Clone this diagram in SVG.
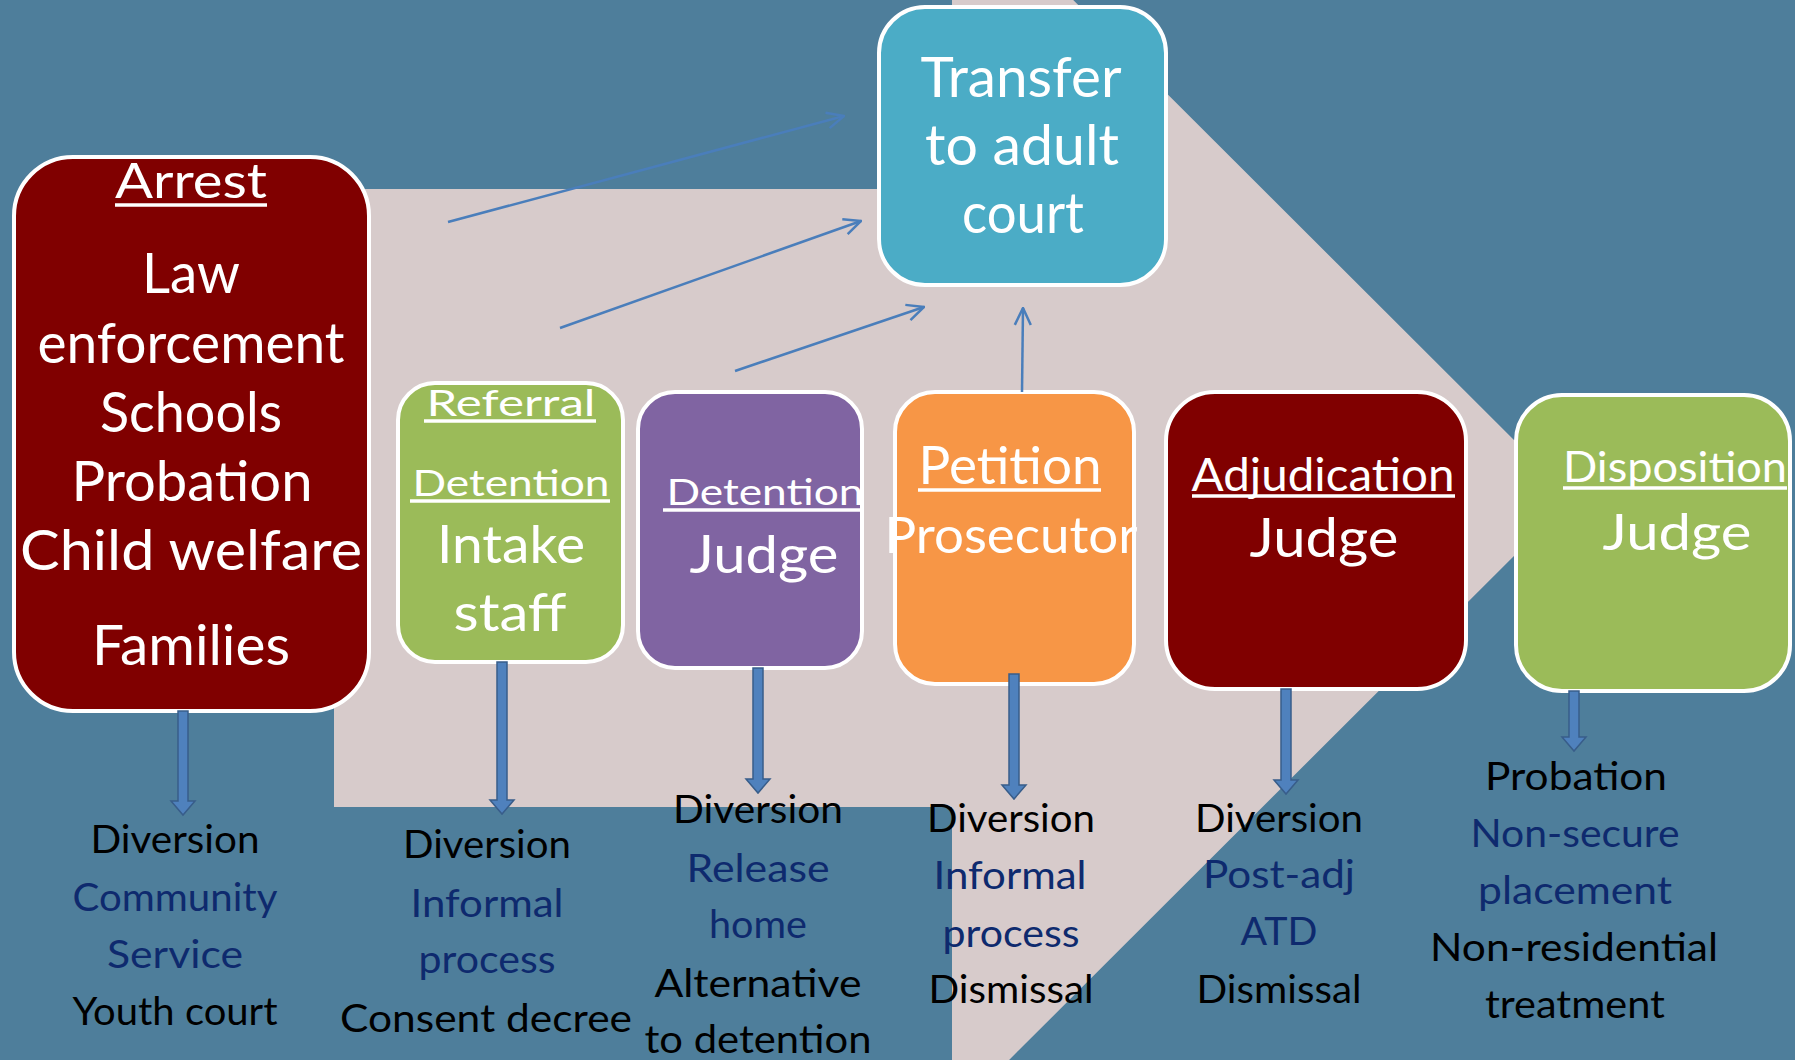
<svg xmlns="http://www.w3.org/2000/svg" width="1795" height="1060" viewBox="0 0 1795 1060">
<defs>
<style>
text{font-family:Lato,"Liberation Sans",sans-serif;text-anchor:middle}
.w{fill:#fff}
.b{fill:#000}
.n{fill:#0E2A6E}
.box{stroke:#fff;stroke-width:4}
.ul{stroke:#fff;stroke-width:3.5}
.thin{stroke:#4A7EBB;stroke-width:2.5;fill:none;marker-end:url(#open)}
.block{fill:#4F81BD;stroke:#385D8A;stroke-width:1.5}
.bt{font-size:39px}
</style>
<marker id="open" viewBox="0 0 20 20" refX="19" refY="10" markerWidth="20" markerHeight="20" markerUnits="userSpaceOnUse" orient="auto">
<path d="M2,2 L19,10 L2,18" fill="none" stroke="#4A7EBB" stroke-width="2.5"/>
</marker>
</defs>
<rect x="0" y="0" width="1795" height="1060" fill="#4E7E9B"/>
<polygon points="334,189 952,189 952,-121 1572,498 952,1117 952,807 334,807" fill="#D7CBCB"/>

<g id="node-arrest">
<rect class="box" x="14" y="157" width="355" height="554" rx="59" fill="#800000"/>
<text class="w" x="191" y="198" font-size="49" textLength="152" lengthAdjust="spacingAndGlyphs">Arrest</text>
<line class="ul" x1="115" y1="205" x2="267" y2="205"/>
<text class="w" x="191" y="293" font-size="57" textLength="98" lengthAdjust="spacingAndGlyphs">Law</text>
<text class="w" x="191" y="363" font-size="57" textLength="307" lengthAdjust="spacingAndGlyphs">enforcement</text>
<text class="w" x="191" y="432" font-size="57" textLength="182" lengthAdjust="spacingAndGlyphs">Schools</text>
<text class="w" x="192" y="501" font-size="57" textLength="241" lengthAdjust="spacingAndGlyphs">Probation</text>
<text class="w" x="191" y="570" font-size="57" textLength="342" lengthAdjust="spacingAndGlyphs">Child welfare</text>
<text class="w" x="191" y="665" font-size="57" textLength="198" lengthAdjust="spacingAndGlyphs">Families</text>
</g>

<g id="node-transfer">
<rect class="box" x="879" y="7" width="287" height="278" rx="46" fill="#4BACC6"/>
<text class="w" x="1021" y="97" font-size="56" textLength="201" lengthAdjust="spacingAndGlyphs">Transfer</text>
<text class="w" x="1022" y="165" font-size="56" textLength="194" lengthAdjust="spacingAndGlyphs">to adult</text>
<text class="w" x="1023" y="233" font-size="56" textLength="122" lengthAdjust="spacingAndGlyphs">court</text>
</g>

<g id="node-referral">
<rect class="box" x="398" y="383" width="225" height="279" rx="37" fill="#9BBB59"/>
<text class="w" x="511" y="416" font-size="36" textLength="169" lengthAdjust="spacingAndGlyphs">Referral</text>
<line class="ul" x1="424" y1="421" x2="596" y2="421"/>
<text class="w" x="511" y="496" font-size="36" textLength="197" lengthAdjust="spacingAndGlyphs">Detention</text>
<line class="ul" x1="410" y1="501" x2="610" y2="501"/>
<text class="w" x="511" y="563" font-size="53" textLength="148" lengthAdjust="spacingAndGlyphs">Intake</text>
<text class="w" x="510" y="631" font-size="53" textLength="113" lengthAdjust="spacingAndGlyphs">staff</text>
</g>

<g id="node-detention">
<rect class="box" x="638" y="392" width="224" height="276" rx="37" fill="#8064A2"/>
<text class="w" x="765" y="505" font-size="36" textLength="197" lengthAdjust="spacingAndGlyphs">Detention</text>
<line class="ul" x1="663" y1="510" x2="861" y2="510"/>
<text class="w" x="764" y="573" font-size="52" textLength="149" lengthAdjust="spacingAndGlyphs">Judge</text>
</g>

<g id="node-petition">
<rect class="box" x="895" y="392" width="239" height="292" rx="40" fill="#F79646"/>
<text class="w" x="1010" y="484" font-size="52" textLength="183" lengthAdjust="spacingAndGlyphs">Petition</text>
<line class="ul" x1="918" y1="490" x2="1101" y2="490"/>
<text class="w" x="1011" y="553" font-size="50" textLength="253" lengthAdjust="spacingAndGlyphs">Prosecutor</text>
</g>

<g id="node-adjudication">
<rect class="box" x="1166" y="392" width="300" height="297" rx="49" fill="#800000"/>
<text class="w" x="1323" y="491" font-size="46" textLength="263" lengthAdjust="spacingAndGlyphs">Adjudication</text>
<line class="ul" x1="1192" y1="496" x2="1455" y2="496"/>
<text class="w" x="1324" y="557" font-size="54" textLength="149" lengthAdjust="spacingAndGlyphs">Judge</text>
</g>

<g id="node-disposition">
<rect class="box" x="1516" y="395" width="274" height="296" rx="46" fill="#9BBB59"/>
<text class="w" x="1675" y="482" font-size="42" textLength="224" lengthAdjust="spacingAndGlyphs">Disposition</text>
<line class="ul" x1="1563" y1="488" x2="1787" y2="488"/>
<text class="w" x="1677" y="550" font-size="50" textLength="149" lengthAdjust="spacingAndGlyphs">Judge</text>
</g>

<g id="connectors">
<line class="thin" x1="448" y1="222" x2="844" y2="116"/>
<line class="thin" x1="560" y1="328" x2="861" y2="221"/>
<line class="thin" x1="735" y1="371" x2="924" y2="307"/>
<line class="thin" x1="1022" y1="392" x2="1023" y2="308"/>
<polygon class="block" points="178,711 188,711 188,801 195,801 183,815 171,801 178,801"/>
<polygon class="block" points="497,662 507,662 507,800 514,800 502,814 490,800 497,800"/>
<polygon class="block" points="753,668 763,668 763,779 770,779 758,793 746,779 753,779"/>
<polygon class="block" points="1009,674 1019,674 1019,785 1026,785 1014,799 1002,785 1009,785"/>
<polygon class="block" points="1281,689 1291,689 1291,780 1298,780 1286,794 1274,780 1281,780"/>
<polygon class="block" points="1569,691 1579,691 1579,737 1586,737 1574,751 1562,737 1569,737"/>
</g>

<g id="outcome-arrest" class="bt">
<text class="b" x="175" y="853" textLength="169" lengthAdjust="spacingAndGlyphs">Diversion</text>
<text class="n" x="175" y="911" textLength="205" lengthAdjust="spacingAndGlyphs">Community</text>
<text class="n" x="175" y="968" textLength="136" lengthAdjust="spacingAndGlyphs">Service</text>
<text class="b" x="175" y="1025" textLength="205" lengthAdjust="spacingAndGlyphs">Youth court</text>
</g>
<g id="outcome-referral" class="bt">
<text class="b" x="487" y="858" textLength="168" lengthAdjust="spacingAndGlyphs">Diversion</text>
<text class="n" x="487" y="917" textLength="153" lengthAdjust="spacingAndGlyphs">Informal</text>
<text class="n" x="487" y="973" textLength="137" lengthAdjust="spacingAndGlyphs">process</text>
<text class="b" x="486" y="1032" textLength="292" lengthAdjust="spacingAndGlyphs">Consent decree</text>
</g>
<g id="outcome-detention" class="bt">
<text class="b" x="758" y="823" textLength="170" lengthAdjust="spacingAndGlyphs">Diversion</text>
<text class="n" x="758" y="882" textLength="143" lengthAdjust="spacingAndGlyphs">Release</text>
<text class="n" x="758" y="938" textLength="98" lengthAdjust="spacingAndGlyphs">home</text>
<text class="b" x="758" y="997" textLength="207" lengthAdjust="spacingAndGlyphs">Alternative</text>
<text class="b" x="758" y="1053" textLength="227" lengthAdjust="spacingAndGlyphs">to detention</text>
</g>
<g id="outcome-petition" class="bt">
<text class="b" x="1011" y="832" textLength="168" lengthAdjust="spacingAndGlyphs">Diversion</text>
<text class="n" x="1010" y="889" textLength="153" lengthAdjust="spacingAndGlyphs">Informal</text>
<text class="n" x="1011" y="947" textLength="137" lengthAdjust="spacingAndGlyphs">process</text>
<text class="b" x="1011" y="1003" textLength="165" lengthAdjust="spacingAndGlyphs">Dismissal</text>
</g>
<g id="outcome-adjudication" class="bt">
<text class="b" x="1279" y="832" textLength="168" lengthAdjust="spacingAndGlyphs">Diversion</text>
<text class="n" x="1279" y="888" textLength="152" lengthAdjust="spacingAndGlyphs">Post-adj</text>
<text class="n" x="1279" y="945" textLength="77" lengthAdjust="spacingAndGlyphs">ATD</text>
<text class="b" x="1279" y="1003" textLength="165" lengthAdjust="spacingAndGlyphs">Dismissal</text>
</g>
<g id="outcome-disposition" class="bt">
<text class="b" x="1576" y="790" textLength="182" lengthAdjust="spacingAndGlyphs">Probation</text>
<text class="n" x="1575" y="847" textLength="209" lengthAdjust="spacingAndGlyphs">Non-secure</text>
<text class="n" x="1575" y="904" textLength="194" lengthAdjust="spacingAndGlyphs">placement</text>
<text class="b" x="1574" y="961" textLength="288" lengthAdjust="spacingAndGlyphs">Non-residential</text>
<text class="b" x="1575" y="1018" textLength="180" lengthAdjust="spacingAndGlyphs">treatment</text>
</g>
</svg>
